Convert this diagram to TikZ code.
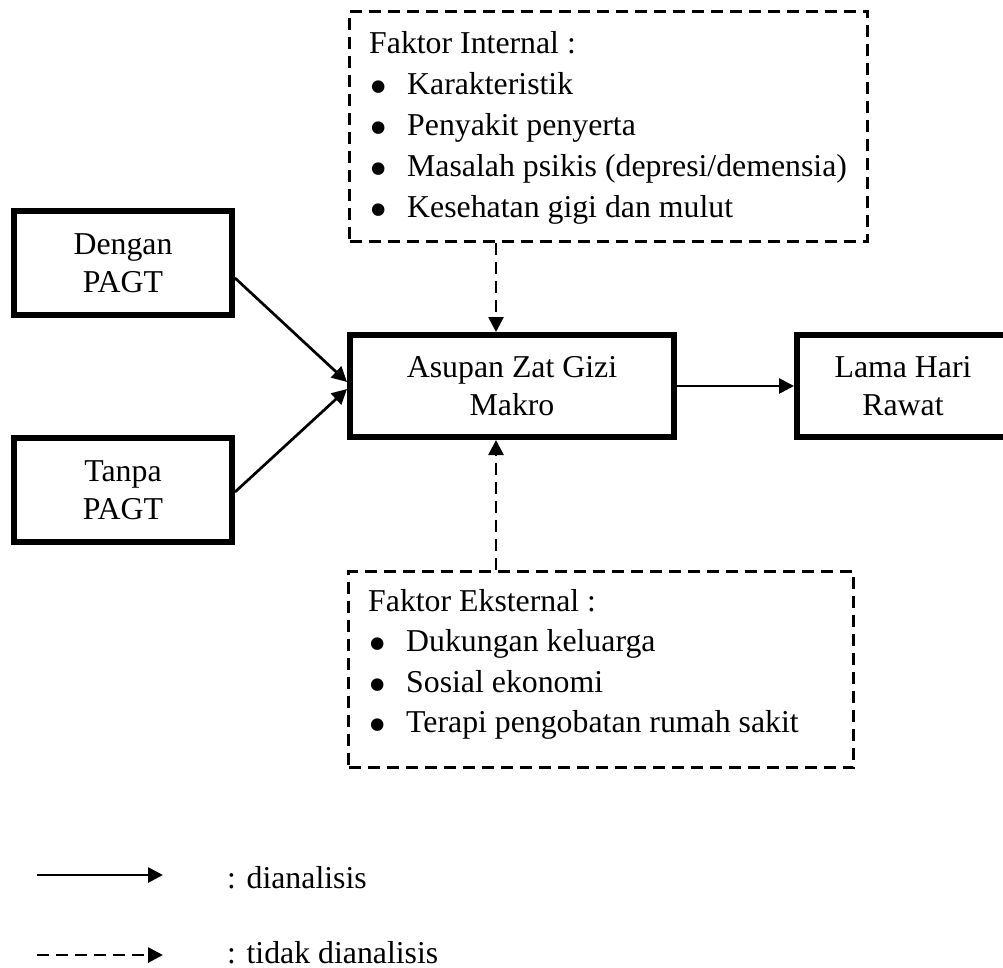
\documentclass[tikz,border=0pt]{standalone}
\usepackage{fontspec}
\usepackage{graphicx}
\setmainfont{Liberation Serif}
\usetikzlibrary{arrows.meta,calc}
\newcommand{\bigbul}{\makebox[38pt][l]{\smash{\raisebox{-10pt}{\scalebox{1.65}{\textbullet}}}}}
\begin{document}
\begin{tikzpicture}[x=1pt,y=-1pt,
  thickbox/.style={draw, line width=6pt, rectangle, align=center, inner sep=0pt,
    font=\fontsize{31.8}{38}\selectfont},
  dashbox/.style={draw, line width=3pt, dash pattern=on 12pt off 7pt, rectangle, inner sep=0pt},
  txt/.style={anchor=base west, inner sep=0pt, font=\fontsize{31.8}{38}\selectfont},
  conn/.style={line width=2.7pt, -{Triangle[length=15pt,width=15pt]}},
  dconn/.style={conn, dash pattern=on 12pt off 7pt},
]
\useasboundingbox (0,0) rectangle (1003,968);

% solid boxes
\node[thickbox, minimum width=218pt, minimum height=104pt] (dengan) at (123,263) {Dengan\\PAGT};
\node[thickbox, minimum width=218pt, minimum height=104pt] (tanpa) at (123,490) {Tanpa\\PAGT};
\node[thickbox, minimum width=324pt, minimum height=102pt] (asupan) at (512,386) {Asupan Zat Gizi\\Makro};
\node[thickbox, minimum width=212pt, minimum height=102pt] (lama) at (903,386) {Lama Hari\\Rawat};

% dashed boxes
\node[dashbox, minimum width=518pt, minimum height=230pt] (intbox) at (608.5,126.5) {};
\node[dashbox, minimum width=505pt, minimum height=196pt] (extbox) at (601,669.5) {};

% internal factors text
\node[txt] (i0) at (369,54) {Faktor Internal :};
\node[txt] (i1) at (369,95) {\bigbul Karakteristik};
\node[txt] (i2) at (369,136) {\bigbul Penyakit penyerta};
\node[txt] (i3) at (369,177) {\bigbul Masalah psikis (depresi/demensia)};
\node[txt] (i4) at (369,218) {\bigbul Kesehatan gigi dan mulut};

% external factors text
\node[txt] (e0) at (368,611) {Faktor Eksternal :};
\node[txt] (e1) at (368,651) {\bigbul Dukungan keluarga};
\node[txt] (e2) at (368,692) {\bigbul Sosial ekonomi};
\node[txt] (e3) at (368,732) {\bigbul Terapi pengobatan rumah sakit};

% connectors
\coordinate (vx) at (496,0);
\draw[conn] ($(dengan.east)+(0,15)$) -- ($(asupan.west)+(0,-4)$);
\draw[conn] ($(tanpa.east)+(0,2)$) -- ($(asupan.west)+(0,3)$);
\draw[conn] (asupan.east) -- (lama.west);
\draw[dconn] (intbox.south -| vx) -- (asupan.north -| vx);
\draw[dconn] (extbox.north -| vx) -- (asupan.south -| vx);

% legend
\coordinate (l1a) at (37,875);
\coordinate (l1b) at (163,875);
\coordinate (l2a) at (37,955);
\coordinate (l2b) at (163,955);
\draw[conn] (l1a) -- (l1b);
\draw[dconn] (l2a) -- (l2b);
\node[txt] (lg1) at (227,888) {: dianalisis};
\node[txt] (lg2) at (227,963) {: tidak dianalisis};
\end{tikzpicture}
\end{document}
